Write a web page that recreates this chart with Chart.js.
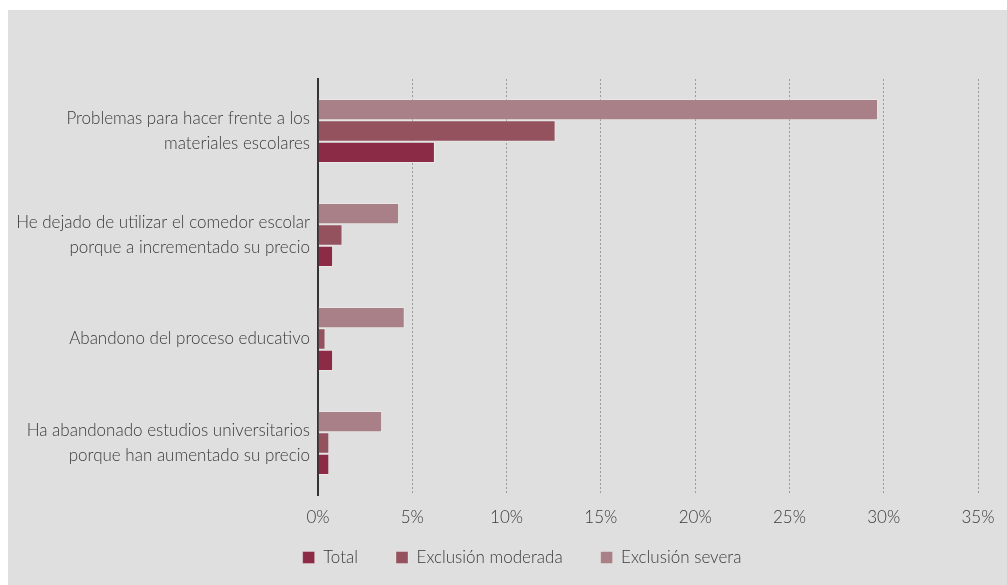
<!DOCTYPE html>
<html>
<head>
    <title>Exclusión y educación</title>
    <script src="https://cdn.jsdelivr.net/npm/chart.js"></script>
    <style>
        body { margin: 0; background: #ffffff; }
        #wrap { position: absolute; left: 8px; top: 10px; width: 999px; height: 575px; background: #dfdfdf; }
    </style>
</head>
<body>
    <div id="wrap"><canvas id="chart"></canvas></div>
    <script>
        const categories = [
            ['Problemas para hacer frente a los', 'materiales escolares'],
            ['He dejado de utilizar el comedor escolar', 'porque a incrementado su precio'],
            'Abandono del proceso educativo',
            ['Ha abandonado estudios universitarios', 'porque han aumentado su precio']
        ];
        const severa = [29.7, 4.3, 4.6, 3.4];
        const moderada = [12.6, 1.3, 0.4, 0.6];
        const total = [6.2, 0.8, 0.8, 0.6];
        const xTicks = [0, 5, 10, 15, 20, 25, 30, 35];

        const textColor = '#3a3a3a';
        const fontFamily = 'Lato, sans-serif';
        const edge = 'rgba(255,255,255,0.3)';

        // nudge the legend closer to the tick labels, as in the original
        const legendOffset = {
            id: 'legendOffset',
            afterLayout(chart) {
                const l = chart.legend;
                l.top -= 22;
                l.left += 29; l.right += 29;
            }
        };

        new Chart(document.getElementById('chart'), {
            type: 'bar',
            data: {
                labels: categories,
                datasets: [
                    { label: 'Exclusión severa', data: severa, backgroundColor: '#a98087', borderColor: edge, borderWidth: 1 },
                    { label: 'Exclusión moderada', data: moderada, backgroundColor: '#94525f', borderColor: edge, borderWidth: 1 },
                    { label: 'Total', data: total, backgroundColor: '#8b2b45', borderColor: edge, borderWidth: 1 }
                ]
            },
            plugins: [legendOffset],
            options: {
                indexAxis: 'y',
                responsive: true,
                maintainAspectRatio: false,
                animation: false,
                datasets: { bar: { categoryPercentage: 0.615, barPercentage: 1 } },
                layout: { padding: { top: 69, left: 0, right: 29, bottom: 0 } },
                scales: {
                    x: {
                        min: 0,
                        max: 35,
                        afterFit: s => { s.height = 38; },
                        afterBuildTicks: s => { s.ticks = xTicks.map(v => ({ value: v })); },
                        ticks: {
                            padding: 12,
                            color: textColor,
                            font: { family: fontFamily, size: 17, weight: 300 },
                            callback: v => v + '%'
                        },
                        grid: { color: '#9a9a9a', lineWidth: 1, drawTicks: false },
                        border: { display: false, dash: [2, 2] }
                    },
                    y: {
                        afterFit: s => { s.width = 310; },
                        ticks: {
                            padding: 8,
                            color: textColor,
                            font: { family: fontFamily, size: 17, weight: 300, lineHeight: 25 / 17 }
                        },
                        grid: { display: false, drawTicks: false },
                        border: { display: true, color: '#333333', width: 2 }
                    }
                },
                plugins: {
                    tooltip: { enabled: false },
                    legend: {
                        position: 'bottom',
                        reverse: true,
                        maxHeight: 52,
                        labels: {
                            boxWidth: 12,
                            boxHeight: 12,
                            padding: 38,
                            color: textColor,
                            font: { family: fontFamily, size: 17, weight: 300 }
                        }
                    }
                }
            }
        });
    </script>
</body>
</html>
